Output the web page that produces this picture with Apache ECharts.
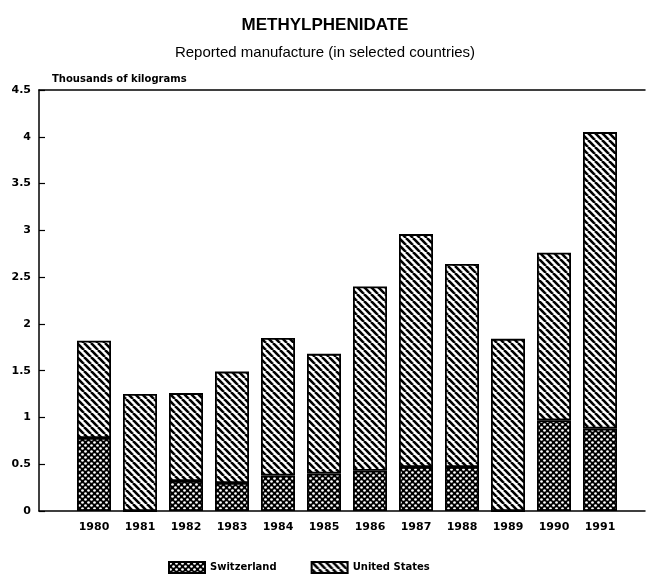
<!DOCTYPE html>
<html>
<head>
<meta charset="utf-8">
<script src="https://cdn.jsdelivr.net/npm/echarts@6/dist/echarts.min.js"></script>
<style>
  html, body { margin: 0; padding: 0; background: #fff; }
  #chart { width: 650px; height: 585px; }
</style>
</head>
<body>
<div id="chart"></div>
<script>
const years = ['1980', '1981', '1982', '1983', '1984', '1985', '1986', '1987', '1988', '1989', '1990', '1991']
const switzerland = [0.78, 0, 0.32, 0.30, 0.38, 0.40, 0.43, 0.47, 0.47, 0, 0.97, 0.88]
const unitedStates = [1.04, 1.25, 0.94, 1.19, 1.47, 1.28, 1.97, 2.49, 2.17, 1.84, 1.79, 3.17]
const yTicks = [0, 0.5, 1, 1.5, 2, 2.5, 3, 3.5, 4, 4.5]

const FONT = '"Liberation Sans", Arial, sans-serif'
const WIDE = '"DejaVu Sans", sans-serif'

// hatch for United States: black diagonal lines, top-left to bottom-right
function stripePattern () {
  const s = 7
  const c = document.createElement('canvas')
  c.width = s
  c.height = s
  const ctx = c.getContext('2d')
  ctx.fillStyle = '#fff'
  ctx.fillRect(0, 0, s, s)
  ctx.strokeStyle = '#000'
  ctx.lineWidth = 2.6
  for (let k = -1; k <= 1; k++) {
    ctx.beginPath()
    ctx.moveTo(k * s, 0)
    ctx.lineTo(k * s + s, s)
    ctx.stroke()
  }
  return c
}

// dotted crosshatch for Switzerland: black with white dots
function dotPattern () {
  const s = 6
  const c = document.createElement('canvas')
  c.width = s
  c.height = s
  const ctx = c.getContext('2d')
  ctx.fillStyle = '#000'
  ctx.fillRect(0, 0, s, s)
  ctx.fillStyle = '#fff'
  ;[[1.5, 1.5], [4.5, 4.5]].forEach(p => {
    ctx.beginPath()
    ctx.arc(p[0], p[1], 1.35, 0, Math.PI * 2)
    ctx.fill()
  })
  return c
}

const stripes = { image: stripePattern(), repeat: 'repeat' }
const dots = { image: dotPattern(), repeat: 'repeat' }

const chart = echarts.init(document.getElementById('chart'), null, { renderer: 'canvas' })

const option = {
  backgroundColor: '#fff',
  animation: false,
  title: [
    {
      text: 'METHYLPHENIDATE',
      left: 'center',
      top: 12,
      textStyle: { fontFamily: FONT, fontSize: 17, fontWeight: 'bold', color: '#000' }
    },
    {
      text: 'Reported manufacture (in selected countries)',
      left: 'center',
      top: 40,
      textStyle: { fontFamily: FONT, fontSize: 15, fontWeight: 'normal', color: '#000' }
    },
    {
      text: 'Thousands of kilograms',
      left: 47,
      top: 69,
      textStyle: { fontFamily: WIDE, fontSize: 10, fontWeight: 'bold', color: '#000' }
    }
  ],
  legend: {
    bottom: 6,
    left: 163,
    icon: 'rect',
    itemWidth: 36,
    itemHeight: 11,
    itemGap: 34,
    data: ['Switzerland', 'United States'],
    textStyle: { fontFamily: WIDE, fontSize: 10, fontWeight: 'bold', color: '#000' }
  },
  grid: [
    { left: 39, right: 5, top: 90, bottom: 74 },
    { left: 71, right: 27, top: 90, bottom: 74 }
  ],
  xAxis: [
    {
      gridIndex: 0, type: 'value', min: 0, max: 1,
      axisLine: { show: true, lineStyle: { color: '#000', width: 1.5 } },
      axisTick: { show: false }, axisLabel: { show: false }, splitLine: { show: false }
    },
    {
      gridIndex: 0, type: 'value', min: 0, max: 1, position: 'top',
      axisLine: { show: true, lineStyle: { color: '#000', width: 1.5 } },
      axisTick: { show: false }, axisLabel: { show: false }, splitLine: { show: false }
    },
    {
      gridIndex: 1, type: 'category', data: years,
      axisLine: { show: false }, axisTick: { show: false },
      axisLabel: { margin: 11, fontFamily: WIDE, fontSize: 11, fontWeight: 'bold', color: '#000' }
    }
  ],
  yAxis: [
    {
      gridIndex: 0, type: 'value', min: yTicks[0], max: yTicks[yTicks.length - 1], interval: 0.5,
      axisLine: { show: true, lineStyle: { color: '#000', width: 1.5 } },
      axisTick: { show: true, inside: true, length: 6, lineStyle: { color: '#000', width: 1.2 } },
      axisLabel: { margin: 8, fontFamily: WIDE, fontSize: 11, fontWeight: 'bold', color: '#000' },
      splitLine: { show: false }
    },
    {
      gridIndex: 1, type: 'value', min: 0, max: 4.5, show: false
    }
  ],
  series: [
    {
      name: 'Switzerland',
      type: 'bar',
      stack: 'total',
      xAxisIndex: 2,
      yAxisIndex: 1,
      barWidth: 34,
      data: switzerland,
      itemStyle: { color: dots, borderColor: '#000', borderWidth: 1.8 }
    },
    {
      name: 'United States',
      type: 'bar',
      stack: 'total',
      xAxisIndex: 2,
      yAxisIndex: 1,
      barWidth: 34,
      data: unitedStates,
      itemStyle: { color: stripes, borderColor: '#000', borderWidth: 1.8 }
    }
  ]
}

chart.setOption(option)
</script>
</body>
</html>
